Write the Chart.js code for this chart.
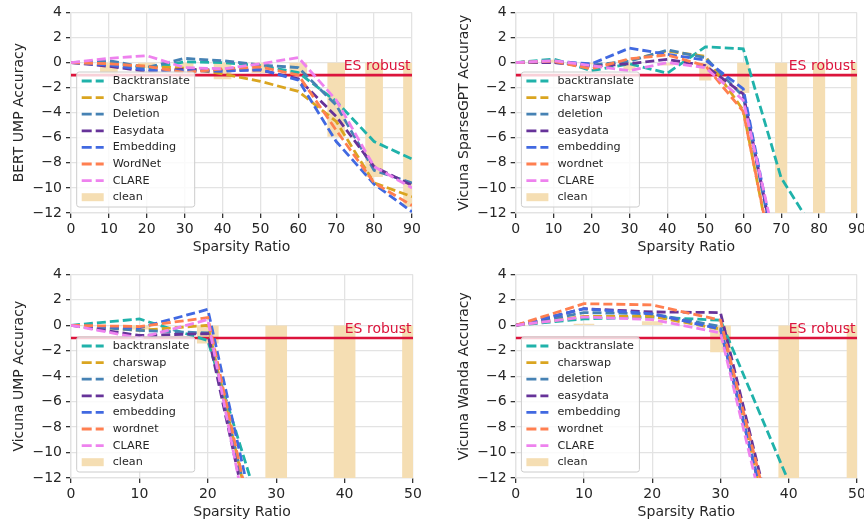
<!DOCTYPE html>
<html>
<head>
<meta charset="utf-8">
<script src="https://cdn.jsdelivr.net/npm/chart.js@4.4.0/dist/chart.umd.min.js"></script>
<style>
html, body { margin: 0; padding: 0; background: #fff; overflow: hidden; }
body { width: 864px; height: 525px; position: relative; }
canvas { position: absolute; }
</style>
</head>
<body>
<canvas id="bertUmp" width="432" height="262" style="left:0;top:0"></canvas>
<canvas id="vicunaSparse" width="442" height="262" style="left:432px;top:0"></canvas>
<canvas id="vicunaUmp" width="432" height="265" style="left:0;top:262px"></canvas>
<canvas id="vicunaWanda" width="442" height="265" style="left:432px;top:262px"></canvas>
<script>
// sparsity ratios (x)
const ratiosLong = [0, 10, 20, 30, 40, 50, 60, 70, 80, 90];
const ratiosShort = [0, 10, 20, 30, 40, 50];
const yTicks = [-12, -10, -8, -6, -4, -2, 0, 2, 4];
const esThreshold = -1;

const bertLabels = ['Backtranslate', 'Charswap', 'Deletion', 'Easydata', 'Embedding', 'WordNet', 'CLARE'];
const vicunaLabels = ['backtranslate', 'charswap', 'deletion', 'easydata', 'embedding', 'wordnet', 'CLARE'];

// BERT UMP
const bertBacktranslate = [0, 0, -0.45, 0.05, 0, -0.25, -0.8, -3.1, -6.3, -7.7];
const bertCharswap = [0, -0.1, -0.3, -0.45, -0.9, -1.5, -2.3, -4.7, -9.6, -10.7];
const bertDeletion = [0, 0.15, -0.4, 0.33, 0.15, -0.2, -0.4, -3.4, -8.6, -9.6];
const bertEasydata = [0, -0.3, -0.7, -0.55, -0.6, -0.6, -1.3, -4.3, -8.3, -9.8];
const bertEmbedding = [0, -0.2, -0.6, -0.65, -0.7, -0.55, -1.4, -6.3, -9.7, -11.9];
const bertWordnet = [0, -0.1, -0.3, -0.8, -0.5, -0.35, -1.0, -5.4, -9.6, -11.4];
const bertClare = [0, 0.33, 0.55, -0.4, -0.5, -0.1, 0.4, -3.0, -8.3, -10.0];
const bertClean = [0, -0.9, -0.4, -0.4, -1.3, -0.8, -1.0, -5.9, -9.1, -11.5];

// Vicuna SparseGPT
const sgptBacktranslate = [0, 0.28, -0.65, -0.1, -0.85, 1.25, 1.1, -9.2, -14, null];
const sgptCharswap = [0, 0.1, -0.4, 0.2, 0.9, 0.5, -3.8, -19.3, null, null];
const sgptDeletion = [0, 0, -0.2, 0.1, 1.0, 0.4, -2.7, -17.7, null, null];
const sgptEasydata = [0, 0, -0.3, -0.1, 0.25, -0.25, -2.5, -17.5, null, null];
const sgptEmbedding = [0, 0.1, -0.1, 1.15, 0.65, 0.2, -2.1, -17.3, null, null];
const sgptWordnet = [0, 0.1, -0.5, 0.3, 0.6, -0.25, -3.9, -19, null, null];
const sgptClare = [0, 0.15, -0.25, -0.65, 0, -0.4, -3.0, -16.4, null, null];
const sgptClean = [0, 0.2, -0.1, -0.6, -0.2, -1.4, -2.4, -12, -12, -12];

// Vicuna UMP
const umpBacktranslate = [0, 0.5, -1.2, -18.6, null, null];
const umpCharswap = [0, -0.4, 0.0, -24, null, null];
const umpDeletion = [0, -0.4, -0.6, -23.4, null, null];
const umpEasydata = [0, -0.8, -0.65, -25.4, null, null];
const umpEmbedding = [0, -0.2, 1.25, -22.8, null, null];
const umpWordnet = [0, -0.1, 0.6, -24.2, null, null];
const umpClare = [0, -1.0, 0.45, -27.3, null, null];
const umpClean = [0, -0.3, -1.4, -12, -12, -12];

// Vicuna Wanda
const wandaBacktranslate = [0, 0.5, 0.65, 0.4, -12.3, null];
const wandaCharswap = [0, 0.7, 0.7, -0.3, -22, null];
const wandaDeletion = [0, 1.0, 0.9, -0.1, -22, null];
const wandaEasydata = [0, 1.3, 1.05, 1.0, -21, null];
const wandaEmbedding = [0, 1.3, 0.9, -0.3, -22, null];
const wandaWordnet = [0, 1.7, 1.6, 0.4, -21, null];
const wandaClare = [0, 0.65, 0.45, -0.6, -23, null];
const wandaClean = [0, 0.1, 0.3, -2.1, -12, -12];

const lineColors = ['#20b2aa', '#daa520', '#4682b4', '#663399', '#4169e1', '#ff7f50', '#ee82ee'];
const cleanColor = '#f5deb3';
const esColor = '#dc143c';
const textColor = '#262626';
const gridColor = '#e3e3e3';
const family = "'DejaVu Sans', sans-serif";

Chart.defaults.font.family = family;
Chart.defaults.color = textColor;

// legend drawn inside the plot, lower left
const insideLegend = {
    id: 'insideLegend',
    afterDatasetsDraw(chart) {
        const {ctx, chartArea} = chart;
        const w = 118, h = 135;
        const x0 = chartArea.left + 5.7, y0 = chartArea.bottom - 6 - h;
        ctx.save();
        ctx.beginPath();
        ctx.roundRect(x0, y0, w, h, 2.5);
        ctx.fillStyle = 'rgba(255,255,255,0.8)';
        ctx.fill();
        ctx.strokeStyle = '#cccccc';
        ctx.lineWidth = 1;
        ctx.stroke();

        const lines = chart.data.datasets.filter(d => d.isSeries);
        const clean = chart.data.datasets.find(d => d.label === 'clean');
        ctx.font = '11.2px ' + family;
        ctx.textBaseline = 'middle';
        ctx.textAlign = 'left';
        lines.forEach((d, i) => {
            const cy = y0 + 9 + i * 16.6;
            ctx.beginPath();
            ctx.setLineDash([10, 4]);
            ctx.strokeStyle = d.borderColor;
            ctx.lineWidth = 2.8;
            ctx.moveTo(x0 + 5, cy);
            ctx.lineTo(x0 + 27, cy);
            ctx.stroke();
            ctx.setLineDash([]);
            ctx.fillStyle = textColor;
            ctx.fillText(d.label, x0 + 36, cy);
        });
        const cy = y0 + 9 + lines.length * 16.6;
        ctx.fillStyle = clean.backgroundColor;
        ctx.fillRect(x0 + 5, cy - 4, 22, 8);
        ctx.fillStyle = textColor;
        ctx.fillText('clean', x0 + 36, cy);
        ctx.restore();
    }
};

const esLabel = {
    id: 'esLabel',
    afterDatasetsDraw(chart) {
        const {ctx, chartArea, scales} = chart;
        ctx.save();
        ctx.font = '14px ' + family;
        ctx.fillStyle = esColor;
        ctx.textAlign = 'right';
        ctx.textBaseline = 'alphabetic';
        ctx.fillText('ES robust', chartArea.right - 1.5, scales.y.getPixelForValue(esThreshold) - 5);
        ctx.restore();
    }
};

function makePanel(id, p) {
    const xs = p.ratios;
    const datasets = [];
    datasets.push({
        type: 'bar', label: 'clean',
        data: xs.map((x, i) => ({x: x, y: p.clean[i]})),
        backgroundColor: cleanColor, barThickness: p.barPx, order: 20, clip: 0
    });
    datasets.push({
        type: 'line', label: 'ES robust',
        data: [{x: xs[0], y: esThreshold}, {x: xs[xs.length - 1], y: esThreshold}],
        borderColor: esColor, borderWidth: 2.6, pointRadius: 0, order: 19, clip: 0
    });
    p.series.forEach((s, k) => {
        datasets.push({
            type: 'line', label: p.labels[k], isSeries: true,
            data: xs.map((x, i) => ({x: x, y: s[i]})),
            borderColor: lineColors[k], borderWidth: 2.8, borderDash: [9, 4],
            pointRadius: 0, tension: 0, order: 10 - k, clip: 0
        });
    });

    new Chart(document.getElementById(id), {
        type: 'line',
        data: {datasets: datasets},
        options: {
            responsive: false,
            animation: false,
            layout: {padding: {left: 0, top: p.top, right: p.right, bottom: 0}},
            plugins: {legend: {display: false}, tooltip: {enabled: false}},
            scales: {
                x: {
                    type: 'linear', min: 0, max: xs[xs.length - 1], offset: false,
                    afterBuildTicks: s => { s.ticks = xs.map(v => ({value: v})); },
                    ticks: {padding: 3, color: textColor, font: {size: 14}, maxRotation: 0, autoSkip: false},
                    grid: {color: gridColor, lineWidth: 1.3, tickColor: '#333', tickLength: 5, offset: false},
                    border: {color: gridColor, width: 1.3},
                    title: {display: true, text: 'Sparsity Ratio', color: textColor, font: {size: 14}, padding: {top: 0, bottom: 6.6}},
                    afterFit: s => { s.height = 49; }
                },
                y: {
                    min: -12, max: 4,
                    afterBuildTicks: s => { s.ticks = yTicks.map(v => ({value: v})); },
                    ticks: {padding: 4, color: textColor, font: {size: 14}, callback: v => String(v).replace('-', '\u2212')},
                    grid: {color: gridColor, lineWidth: 1.3, tickColor: '#333', tickLength: 5},
                    border: {color: gridColor, width: 1.3},
                    title: {display: true, text: p.ytitle, color: textColor, font: {size: 14}, padding: {top: p.ytPad, bottom: 0}},
                    afterFit: s => { s.width = p.yw; }
                }
            }
        },
        plugins: [esLabel, insideLegend]
    });
}

makePanel('bertUmp', {
    ratios: ratiosLong, labels: bertLabels, clean: bertClean, ytitle: 'BERT UMP Accuracy',
    series: [bertBacktranslate, bertCharswap, bertDeletion, bertEasydata, bertEmbedding, bertWordnet, bertClare],
    barPx: 17, top: 9.4, right: 20, yw: 71, ytPad: 10.6
});
makePanel('vicunaSparse', {
    ratios: ratiosLong, labels: vicunaLabels, clean: sgptClean, ytitle: 'Vicuna SparseGPT Accuracy',
    series: [sgptBacktranslate, sgptCharswap, sgptDeletion, sgptEasydata, sgptEmbedding, sgptWordnet, sgptClare],
    barPx: 11.5, top: 9.4, right: 17, yw: 83.7, ytPad: 23.8
});
makePanel('vicunaUmp', {
    ratios: ratiosShort, labels: vicunaLabels, clean: umpClean, ytitle: 'Vicuna UMP Accuracy',
    series: [umpBacktranslate, umpCharswap, umpDeletion, umpEasydata, umpEmbedding, umpWordnet, umpClare],
    barPx: 21, top: 12.3, right: 19, yw: 71, ytPad: 10.6
});
makePanel('vicunaWanda', {
    ratios: ratiosShort, labels: vicunaLabels, clean: wandaClean, ytitle: 'Vicuna Wanda Accuracy',
    series: [wandaBacktranslate, wandaCharswap, wandaDeletion, wandaEasydata, wandaEmbedding, wandaWordnet, wandaClare],
    barPx: 20, top: 12.3, right: 17, yw: 83.7, ytPad: 23.7
});
</script>
</body>
</html>
